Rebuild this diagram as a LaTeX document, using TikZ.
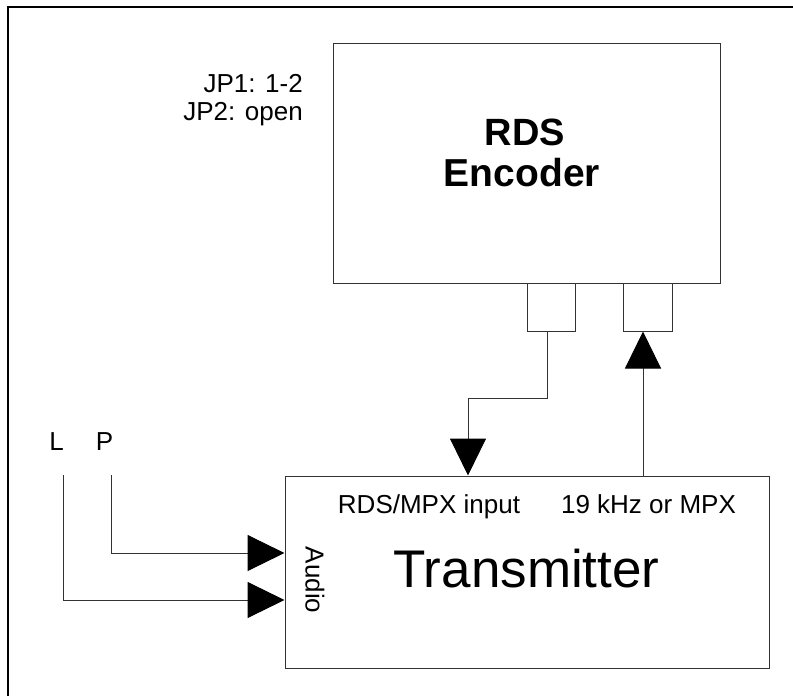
\documentclass[tikz,border=0pt]{standalone}
\usepackage{fontspec}
\setmainfont{Liberation Sans}
\usetikzlibrary{arrows.meta}
\begin{document}
\begin{tikzpicture}[x=1pt,y=-1pt,
  box/.style={draw=black!80,line width=1pt,fill=white,inner sep=0pt},
  wire/.style={draw=black!80,line width=1pt},
  arr/.style={wire,-{Triangle[length=37pt,width=36pt,color=black,fill=black]}},
  lbl/.style={inner sep=0pt,font=\fontsize{26}{30}\selectfont},
  frame/.style={draw=black}]
\useasboundingbox (0,0) rectangle (793,696);
% frame
\draw[frame,line width=2.5pt] (7,7) -- (793,7);
\draw[frame,line width=1.5pt] (8,7) -- (8,696);
% boxes
\node[box,minimum width=387pt,minimum height=240pt] (enc) at (526.5,163) {};
\node[box,minimum width=48pt,minimum height=48pt] (c1) at (551,307) {};
\node[box,minimum width=49pt,minimum height=48pt] (c2) at (647.5,307) {};
\node[box,minimum width=484pt,minimum height=192pt] (tx) at (527,572) {};
% texts
\node[inner sep=0pt,anchor=base,font=\fontsize{38}{41}\bfseries\selectfont] (t1) at (525,145) {RDS};
\node[inner sep=0pt,anchor=base,font=\fontsize{39}{41}\bfseries\selectfont] (t2) at (522,186) {Encoder};
\node[lbl,anchor=base east] (jp1) at (303,92) {JP1: 1-2};
\node[lbl,anchor=base east] (jp2) at (303,120) {JP2: open};
\node[lbl,anchor=base] (rin) at (429,513) {RDS/MPX input};
\node[lbl,anchor=base] (rout) at (648.5,513) {19 kHz or MPX};
\node[inner sep=0pt,anchor=base,font=\fontsize{53}{60}\selectfont] (tt) at (526.5,587) {Transmitter};
\node[lbl,rotate=-90] (aud) at (315,580) {Audio};
\node[lbl,anchor=base] (L) at (56.5,450) {L};
\node[lbl,anchor=base] (P) at (104.5,450) {P};
% connectors
\coordinate (k1) at (468,398);
\draw[arr] ([xshift=-4pt]c1.south) |- (k1) -- (k1 |- tx.north);
\coordinate (k2) at (643,476);
\draw[arr] (k2) -- (k2 |- c2.south);
\coordinate (ls) at (63,475);
\coordinate (ps) at (111,475);
\draw[arr] (ls) |- (tx.west |- 0,600);
\draw[arr] (ps) |- (tx.west |- 0,553);
\end{tikzpicture}
\end{document}
